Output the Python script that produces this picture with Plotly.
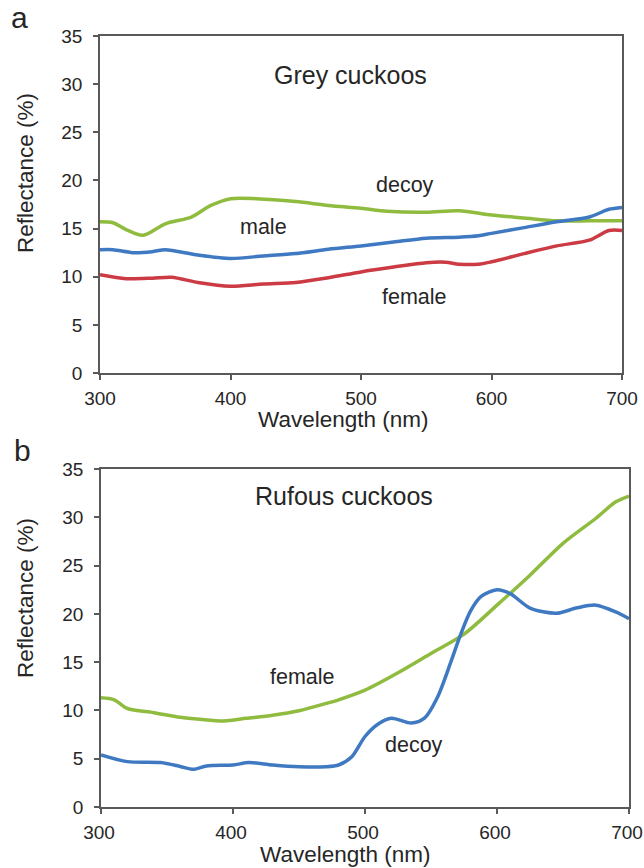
import plotly.graph_objects as go

# ---------------- data ----------------
# Panel a: Grey cuckoos
grey_decoy_wl = [300, 310, 320, 333, 350, 370, 385, 400, 420, 450, 475, 500, 520, 550, 575, 600, 625, 650, 675, 700]
grey_decoy = [15.7, 15.6, 14.9, 14.3, 15.5, 16.2, 17.4, 18.1, 18.1, 17.8, 17.4, 17.1, 16.8, 16.7, 16.85, 16.4, 16.1, 15.8, 15.8, 15.8]

grey_male_wl = [300, 310, 325, 340, 350, 375, 400, 425, 450, 475, 500, 525, 550, 575, 590, 600, 625, 650, 675, 690, 700]
grey_male = [12.8, 12.8, 12.5, 12.6, 12.8, 12.25, 11.9, 12.15, 12.4, 12.85, 13.2, 13.6, 14.0, 14.1, 14.25, 14.5, 15.1, 15.7, 16.2, 17.0, 17.2]

grey_female_wl = [300, 320, 340, 355, 375, 400, 425, 450, 475, 500, 525, 550, 565, 575, 590, 600, 625, 650, 675, 690, 700]
grey_female = [10.2, 9.8, 9.85, 9.95, 9.4, 9.0, 9.25, 9.4, 9.9, 10.5, 11.0, 11.45, 11.5, 11.3, 11.3, 11.55, 12.4, 13.2, 13.8, 14.8, 14.8]

# Panel b: Rufous cuckoos
ruf_female_wl = [300, 310, 320, 340, 360, 375, 393, 410, 430, 450, 470, 480, 500, 525, 550, 575, 600, 625, 650, 675, 690, 700]
ruf_female = [11.3, 11.1, 10.2, 9.77, 9.3, 9.08, 8.9, 9.18, 9.5, 9.97, 10.7, 11.1, 12.1, 13.9, 15.9, 17.9, 20.9, 24.0, 27.3, 29.9, 31.6, 32.2]

ruf_decoy_wl = [300, 320, 345, 360, 370, 380, 400, 412, 430, 450, 470, 480, 490, 500, 510, 520, 535, 545, 555, 565, 572, 580, 588, 600, 610, 625, 645, 660, 675, 690, 700]
ruf_decoy = [5.4, 4.7, 4.6, 4.2, 3.9, 4.25, 4.35, 4.6, 4.35, 4.17, 4.17, 4.35, 5.2, 7.3, 8.6, 9.2, 8.7, 9.2, 11.4, 15.0, 17.7, 20.3, 21.8, 22.5, 22.1, 20.6, 20.06, 20.6, 20.9, 20.2, 19.5]

x_ticks = [300, 400, 500, 600, 700]
y_ticks = [0, 5, 10, 15, 20, 25, 30, 35]

GREEN = "#8fbb3e"
BLUE = "#3f79c2"
RED = "#cc3a43"
AXIS = "#595959"
TXT = "#262626"
FONT = "Liberation Sans, Arial, sans-serif"

W, H = 644, 868

fig = go.Figure()

def add_line(x, y, color, xa, ya):
    fig.add_trace(go.Scatter(x=x, y=y, mode="lines", xaxis=xa, yaxis=ya,
                             line=dict(color=color, width=3.5, shape="spline", smoothing=0.8),
                             showlegend=False, hoverinfo="skip"))

add_line(grey_decoy_wl, grey_decoy, GREEN, "x", "y")
add_line(grey_male_wl, grey_male, BLUE, "x", "y")
add_line(grey_female_wl, grey_female, RED, "x", "y")
add_line(ruf_female_wl, ruf_female, GREEN, "x2", "y2")
add_line(ruf_decoy_wl, ruf_decoy, BLUE, "x2", "y2")

def px_x(p):
    return p / W

def px_y(p):
    return 1 - p / H

axis_common = dict(showgrid=False, zeroline=False, showline=True, linecolor=AXIS, linewidth=1.6,
                   mirror=True, ticks="outside", ticklen=5, tickwidth=1.6, tickcolor=AXIS,
                   automargin=False, ticklabeloverflow="allow",
                   tickfont=dict(family=FONT, size=19, color=TXT))

fig.update_layout(
    width=W, height=H, autosize=False,
    margin=dict(l=0, r=0, t=0, b=0, pad=0),
    paper_bgcolor="white", plot_bgcolor="white",
    font=dict(family=FONT, color=TXT),
    xaxis=dict(domain=[px_x(100), px_x(622)], range=[300, 700], tickvals=x_ticks, anchor="y",
               ticklabelstandoff=2, **axis_common),
    yaxis=dict(domain=[px_y(373), px_y(36)], range=[0, 35], tickvals=y_ticks, anchor="x",
               ticklabelstandoff=7, **axis_common),
    xaxis2=dict(domain=[px_x(101), px_x(629)], range=[300, 700], tickvals=x_ticks, anchor="y2",
                ticklabelstandoff=2, ticklabelshift=-2, **axis_common),
    yaxis2=dict(domain=[px_y(807), px_y(469)], range=[0, 35], tickvals=y_ticks, anchor="x2",
                ticklabelstandoff=7, **axis_common),
)

ann = []
def text_data(t, x, y, xr, yr, size):
    ann.append(dict(text=t, x=x, y=y, xref=xr, yref=yr, showarrow=False,
                    font=dict(family=FONT, size=size, color=TXT), xanchor="center", yanchor="middle"))

def text_paper(t, x, y, size, angle=0):
    ann.append(dict(text=t, x=px_x(x), y=px_y(y), xref="paper", yref="paper", showarrow=False,
                    textangle=angle, font=dict(family=FONT, size=size, color=TXT),
                    xanchor="center", yanchor="middle"))

# in-plot labels
text_data("Grey cuckoos", 492, 30.9, "x", "y", 25)
text_data("decoy", 534, 19.5, "x", "y", 21.5)
text_data("male", 425, 15.2, "x", "y", 21.5)
text_data("female", 541, 7.9, "x", "y", 21.5)
text_data("Rufous cuckoos", 484, 32.2, "x2", "y2", 25)
text_data("female", 453, 13.5, "x2", "y2", 21.5)
text_data("decoy", 537, 6.4, "x2", "y2", 21.5)

# axis titles & panel letters
text_paper("Reflectance (%)", 25, 173, 22.5, -90)
text_paper("Wavelength (nm)", 343, 419, 22.5)
text_paper("Reflectance (%)", 25, 598, 22.5, -90)
text_paper("Wavelength (nm)", 345, 854, 22.5)
text_paper("a", 19, 18, 30)
text_paper("b", 22, 450, 30)

fig.update_layout(annotations=ann)

fig.write_html("out.html")
